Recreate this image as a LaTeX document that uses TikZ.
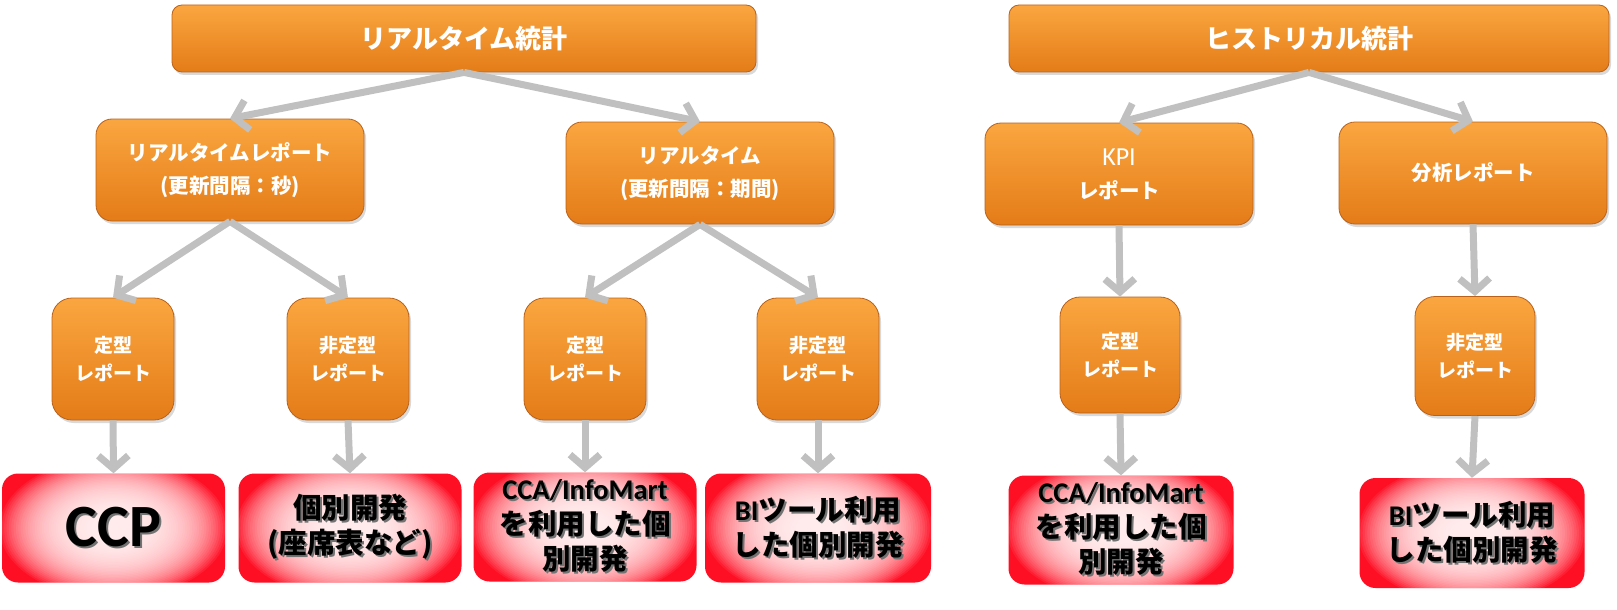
\documentclass[tikz,border=0pt]{standalone}
\usepackage{fontspec}
\setmainfont{Noto Sans CJK JP}
\newfontfamily\latf{Carlito}
\usetikzlibrary{arrows.meta,shadows}
\definecolor{orgtop}{RGB}{250,166,64}
\definecolor{orgbot}{RGB}{228,124,24}
\definecolor{orgline}{RGB}{185,98,28}
\definecolor{arrgray}{RGB}{192,192,192}
\definecolor{boxred}{RGB}{255,15,35}
\newcommand\tsh[1]{\makebox[0pt][l]{\kern2pt\raisebox{-2pt}{\textcolor{black!55}{#1}}}#1}
\tikzset{
  orgbox/.style={draw=orgline, line width=0.8pt, top color=orgtop, bottom color=orgbot,
    text=white, align=center, inner sep=0pt,
    drop shadow={opacity=0.3, shadow xshift=2pt, shadow yshift=-3pt}},
  topbox/.style={orgbox, rounded corners=10pt, minimum width=584pt, minimum height=67pt,
    font=\fontsize{26}{30}\selectfont\bfseries},
  midbox/.style={orgbox, rounded corners=16pt, minimum width=268pt, minimum height=102pt,
    font=\fontsize{20.5}{33}\selectfont\bfseries},
  repbox/.style={orgbox, rounded corners=20pt, minimum width=122pt, minimum height=122pt,
    font=\fontsize{19}{28}\selectfont\bfseries},
  resbox/.style={fill=boxred, rounded corners=16pt, minimum width=223pt,
    minimum height=108pt, align=center, inner sep=0pt, text=black,
    font=\fontsize{28.5}{35}\selectfont\bfseries,
    path picture={\foreach \k in {1,...,40}{\fill[white, fill opacity=0.072]
      (path picture bounding box.center) ellipse [x radius={(20+2.35*\k)*1pt}, y radius={0.62*(20+2.35*\k)*1pt}];}}},
  conn/.style={draw=arrgray, line width=7pt, -{Straight Barb[length=13pt,width=30pt]}}
}
\begin{document}
\begin{tikzpicture}[x=1pt,y=-1pt]
\useasboundingbox (0,0) rectangle (1617,610);
% level 1
\node[topbox] (top1) at (464,38.5) {リアルタイム統計};
\node[topbox, minimum width=600pt] (top2) at (1309,38.5) {ヒストリカル統計};
% level 2
\node[midbox] (rt1) at (230,170) {リアルタイムレポート\\(更新間隔：秒)};
\node[midbox] (rt2) at (700,173) {リアルタイム\\(更新間隔：期間)};
\node[midbox] (kpi) at (1119,174) {{\latf\mdseries\fontsize{26}{33}\selectfont KPI}\\レポート};
\node[midbox] (bun) at (1473,173) {分析レポート};
% level 3
\node[repbox] (d1) at (113,359) {定型\\レポート};
\node[repbox] (nd1) at (348,359) {非定型\\レポート};
\node[repbox] (d2) at (585,359) {定型\\レポート};
\node[repbox] (nd2) at (818,359) {非定型\\レポート};
\node[repbox, minimum width=120pt, minimum height=116pt] (d3) at (1120,355) {定型\\レポート};
\node[repbox, minimum width=120pt, minimum height=119pt] (nd4) at (1475,356) {非定型\\レポート};
% level 4
\node[resbox, minimum height=109pt] (r1) at (113.5,528) {\fontsize{60}{60}\selectfont\tsh{{\latf CCP}}};
\node[resbox, minimum height=109pt] (r2) at (350,528) {\tsh{個別開発}\\\tsh{(座席表など)}};
\node[resbox, minimum height=109pt] (r3) at (585,527) {\tsh{{\latf CCA/InfoMart}}\\\tsh{を利用した個}\\\tsh{別開発}};
\node[resbox, minimum height=109pt, minimum width=226pt] (r4) at (818,528) {\tsh{{\latf BI}ツール利用}\\\tsh{した個別開発}};
\node[resbox, minimum height=109pt, minimum width=225pt] (r5) at (1121,530) {\tsh{{\latf CCA/InfoMart}}\\\tsh{を利用した個}\\\tsh{別開発}};
\node[resbox, minimum height=110pt, minimum width=225pt] (r6) at (1472,533) {\tsh{{\latf BI}ツール利用}\\\tsh{した個別開発}};
% connectors
\draw[conn] (top1.south) -- (rt1.north);
\draw[conn] (top1.south) -- (rt2.north);
\draw[conn] (top2.south) -- (kpi.north);
\draw[conn] (top2.south) -- (bun.north);
\draw[conn] (rt1.south) -- (d1.north);
\draw[conn] (rt1.south) -- (nd1.north);
\draw[conn] (rt2.south) -- (d2.north);
\draw[conn] (rt2.south) -- (nd2.north);
\draw[conn] (kpi.south) -- (d3.north);
\draw[conn] (bun.south) -- (nd4.north);
\draw[conn] (d1.south) -- (r1.north);
\draw[conn] (nd1.south) -- (r2.north);
\draw[conn] (d2.south) -- (r3.north);
\draw[conn] (nd2.south) -- (r4.north);
\draw[conn] (d3.south) -- (r5.north);
\draw[conn] (nd4.south) -- (r6.north);
\end{tikzpicture}
\end{document}
